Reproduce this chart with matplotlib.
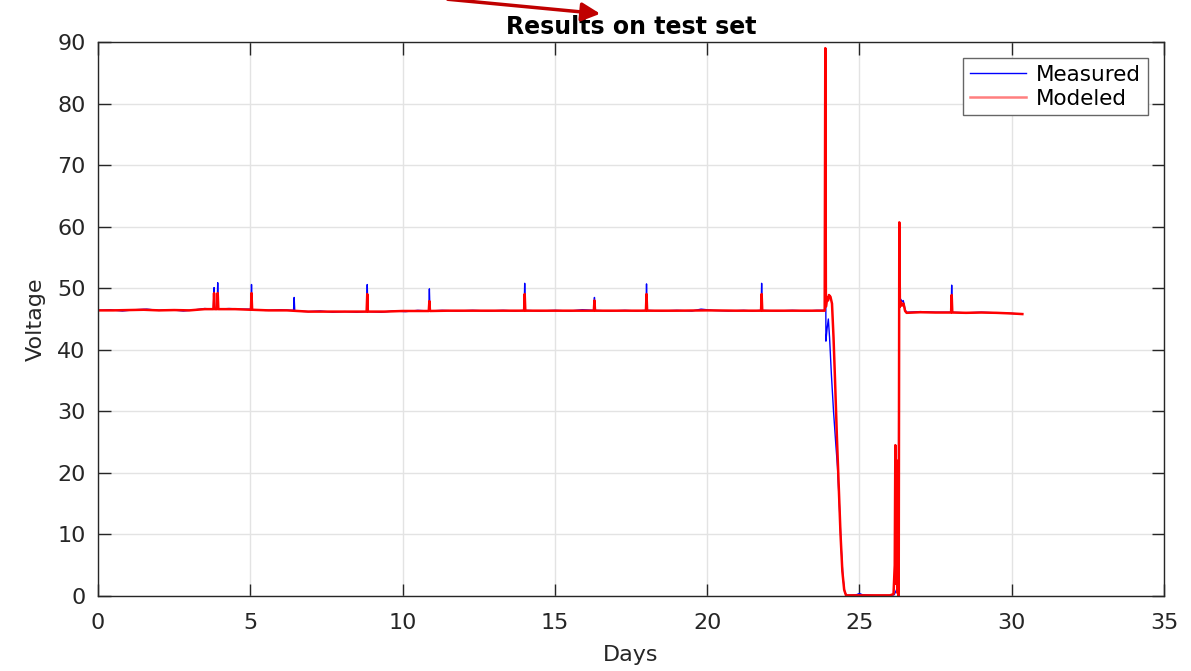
import matplotlib.pyplot as plt
from matplotlib.lines import Line2D
from matplotlib.patches import FancyArrowPatch

plt.rcParams['font.family'] = ['DejaVu Sans']

# measured voltage (days, volts)
measured_days = [0.0, 0.4, 0.8, 1.2, 1.6, 2.0, 2.4, 2.8, 3.2, 3.5, 3.79, 3.81, 3.83, 3.91, 3.93, 3.95,
                 4.3, 4.7, 5.02, 5.04, 5.06, 5.5, 6.0, 6.42, 6.44, 6.46, 6.9, 7.3, 7.7, 8.1, 8.5,
                 8.82, 8.84, 8.86, 9.3, 9.7, 10.1, 10.5, 10.86, 10.88, 10.90, 11.3, 11.8, 12.3,
                 12.8, 13.3, 13.7, 13.99, 14.01, 14.03, 14.5, 15.0, 15.5, 15.9, 16.28, 16.30,
                 16.32, 16.8, 17.3, 17.7, 17.99, 18.01, 18.03, 18.5, 19.0, 19.5, 19.8, 20.2,
                 20.7, 21.2, 21.5, 21.77, 21.79, 21.81, 22.3, 22.8, 23.3, 23.6, 23.86, 23.88,
                 23.90, 23.94, 23.98, 24.02, 24.08, 24.15, 24.22, 24.28, 24.34, 24.40, 24.46,
                 24.52, 24.60, 24.9, 25.0, 25.1, 25.5, 26.0, 26.14, 26.20, 26.26, 26.28, 26.29,
                 26.31, 26.33, 26.36, 26.40, 26.44, 26.50, 26.55, 27.0, 27.5, 28.01, 28.03,
                 28.05, 28.5, 29.0, 29.5, 30.0, 30.35]
measured_volts = [46.4, 46.5, 46.3, 46.5, 46.6, 46.4, 46.5, 46.3, 46.5, 46.7, 46.6, 50.1, 46.6, 46.6, 50.9, 46.6,
                  46.7, 46.6, 46.6, 50.6, 46.5, 46.4, 46.5, 46.4, 48.5, 46.3, 46.2, 46.3, 46.1, 46.2, 46.1,
                  46.2, 50.6, 46.2, 46.1, 46.3, 46.2, 46.4, 46.3, 49.9, 46.3, 46.4, 46.3, 46.4,
                  46.3, 46.4, 46.3, 46.4, 50.8, 46.4, 46.3, 46.4, 46.3, 46.5, 46.4, 48.5,
                  46.4, 46.3, 46.4, 46.3, 46.4, 50.7, 46.4, 46.3, 46.4, 46.3, 46.6, 46.4,
                  46.3, 46.4, 46.3, 46.4, 50.8, 46.4, 46.3, 46.4, 46.3, 46.4, 46.4, 88.0,
                  41.4, 43.5, 45.0, 42.0, 36.0, 30.0, 25.0, 21.0, 15.0, 8.0, 3.0,
                  0.5, 0.1, 0.2, 0.4, 0.2, 0.1, 0.1, 0.2, 0.8, 1.5, 0.5, 30.0,
                  59.5, 47.5, 48.2, 47.8, 48.0, 46.5, 46.1, 46.2, 46.1, 46.1, 50.5,
                  46.1, 46.0, 46.1, 46.0, 45.9, 45.8]

# model output on the same test set
modeled_days = [0.0, 0.5, 1.0, 1.5, 2.0, 2.5, 3.0, 3.5, 3.79, 3.81, 3.83, 3.91, 3.93, 3.95, 4.5,
                5.02, 5.04, 5.06, 5.6, 6.2, 6.9, 7.5, 8.2, 8.82, 8.84, 8.86, 9.4, 10.0, 10.86,
                10.88, 10.90, 11.5, 12.5, 13.5, 13.99, 14.01, 14.03, 15.0, 16.28, 16.30, 16.32,
                17.0, 17.99, 18.01, 18.03, 19.0, 20.0, 21.0, 21.77, 21.79, 21.81, 22.5, 23.5,
                23.86, 23.88, 23.90, 23.94, 23.97, 24.00, 24.05, 24.10, 24.15, 24.20, 24.26,
                24.32, 24.38, 24.44, 24.50, 24.56, 25.0, 25.5, 26.0, 26.12, 26.16, 26.18, 26.19,
                26.21, 26.22, 26.24, 26.25, 26.27, 26.28, 26.29, 26.31, 26.33, 26.36, 26.40,
                26.45, 26.50, 26.55, 27.0, 27.5, 28.01, 28.03, 28.05, 28.5, 29.0, 29.5, 30.0,
                30.35]
modeled_volts = [46.4, 46.4, 46.45, 46.5, 46.4, 46.45, 46.4, 46.6, 46.6, 49.2, 46.6, 46.6, 49.2, 46.6, 46.6,
                 46.5, 49.2, 46.5, 46.4, 46.4, 46.2, 46.2, 46.2, 46.2, 49.05, 46.2, 46.2, 46.3, 46.3,
                 47.9, 46.3, 46.35, 46.35, 46.35, 46.35, 49.05, 46.35, 46.35, 46.35, 48.0, 46.35,
                 46.35, 46.35, 49.05, 46.35, 46.35, 46.4, 46.35, 46.35, 49.05, 46.35, 46.35, 46.35,
                 46.35, 89.0, 47.0, 48.5, 48.0, 48.9, 48.6, 47.5, 42.0, 35.0, 26.0,
                 18.0, 10.0, 4.0, 1.0, 0.1, 0.1, 0.1, 0.1, 0.3, 5.0, 24.5, 2.0,
                 21.0, 8.0, 18.0, 0.5, 22.0, 3.0, 0.0, 60.7, 47.0, 47.8, 47.2,
                 47.5, 46.3, 46.0, 46.1, 46.05, 46.05, 48.9, 46.05, 46.0, 46.05, 46.0, 45.9,
                 45.8]

fig = plt.figure(figsize=(11.91, 6.71), dpi=100)
ax = fig.add_axes([0.0823, 0.1118, 0.895, 0.8256])

ax.plot(measured_days, measured_volts, color='#0000ff', lw=1.0)
ax.plot(modeled_days, modeled_volts, color='#ff0000', lw=1.8)

ax.set_xlim(0, 35)
ax.set_ylim(0, 90)
ax.set_xticks(range(0, 36, 5))
ax.set_yticks(range(0, 91, 10))
ax.grid(True, color='#e3e3e3', lw=1.0)
ax.set_axisbelow(True)
ax.tick_params(direction='in', length=9, width=1, top=True, right=True,
               labelsize=16, colors='#262626', pad=9)
ax.tick_params(axis='x', pad=12)
for sp in ax.spines.values():
    sp.set_color('#262626')
    sp.set_linewidth(1.0)

ax.set_xlabel('Days', fontsize=16, color='#262626', labelpad=9)
ax.set_ylabel('Voltage', fontsize=16, color='#262626', labelpad=8)
ax.set_title('Results on test set', fontsize=17, fontweight='bold', pad=6)

handles = [Line2D([], [], color='#0000ff', lw=1.0),
           Line2D([], [], color='#ff7f7f', lw=1.8)]
leg = ax.legend(handles, ['Measured', 'Modeled'], loc='upper right', fontsize=15.5,
                fancybox=False, framealpha=1, edgecolor='#666666', handlelength=2.6,
                borderaxespad=0.75, labelspacing=0.2, handletextpad=0.5, borderpad=0.3)
leg.get_frame().set_linewidth(1.0)

# red pointer arrow at the top edge
fig.patches.append(FancyArrowPatch(
    (445 / 1191, 1 + 1 / 671), (603 / 1191, 1 - 14 / 671),
    transform=fig.transFigure, arrowstyle='-|>', mutation_scale=28,
    color='#c00000', lw=2.5))

fig.savefig('out.png', dpi=100)
